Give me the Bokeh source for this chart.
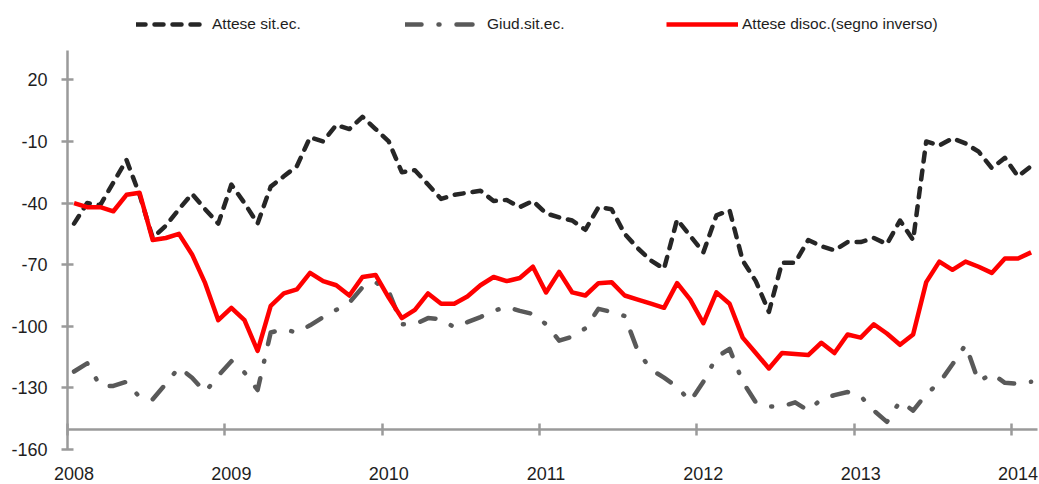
from bokeh.plotting import figure
from bokeh.models import (ColumnDataSource, Legend, LegendItem, FixedTicker,
                          LinearAxis, Range1d)
from bokeh.embed import file_html
from bokeh.resources import INLINE

year_labels = ["2008", "2009", "2010", "2011", "2012", "2013", "2014"]
months = [f"{2008 + i // 12}-{i % 12 + 1:02d}" for i in range(74)]

attese_sit = [-50, -40, -41, -30, -19, -36, -57, -51, -43, -35.5, -43, -50,
              -31, -40, -50, -32, -27, -22, -8, -10, -2, -4, 2, -4,
              -10, -25, -24, -31, -38, -36, -35, -34, -39, -38.5, -42, -39,
              -45, -47, -48.5, -53, -42, -43, -55, -62, -68, -72, -48, -56,
              -64, -46, -43.5, -68, -78, -93, -69, -69, -58, -61, -63, -59,
              -59, -57, -60, -48.5, -58, -10, -12, -8.5, -11, -15, -23, -18,
              -27, -22]

giud_sit = [-122, -118, -129, -129, -127, -134.5, -135.5, -128, -120, -125, -132, -124,
            -117, -122.5, -131, -103, -101.5, -103, -99.5, -95.5, -92, -88.5, -81, -78.5,
            -83, -99, -99, -96, -96.5, -100.5, -98, -95.5, -92.5, -90.5, -92.5, -94,
            -99, -107, -105, -101, -91.5, -93, -95, -112, -121, -125, -129.5, -136.5,
            -127, -115, -111, -127, -137, -139, -139, -137, -141, -135.5, -133.5, -132,
            -134, -141, -146.5, -136.5, -141, -133, -127.5, -118.5, -109, -127, -123, -127.5,
            -128, -127]

attese_disoc = [-40, -42, -42, -44, -36, -35, -58, -57, -55, -65, -79, -97,
                -91, -97, -112, -90, -84, -82, -74, -78, -80, -85, -76, -75,
                -86, -96, -92, -84, -89, -89, -85.5, -80, -76, -78, -76.5, -71,
                -83.5, -73.5, -83.5, -85, -79, -78.5, -85, -87, -89, -91, -79, -87,
                -98.5, -83.5, -89, -105.5, -113, -120.5, -113, -113.5, -114, -108, -113, -104,
                -105.5, -99, -103.5, -109, -104, -78.5, -68.5, -72.5, -68.5, -71, -74, -67,
                -67, -64]

y_ticks = [-160, -130, -100, -70, -40, -10, 20]
y_tick_labels = ["-160", "-130", "-100", "-70", "-40", "-10", "20"]

assert len(attese_sit) == len(giud_sit) == len(attese_disoc) == len(months)

src = ColumnDataSource(dict(
    x=[i + 0.5 for i in range(len(months))],
    month=months,
    a=attese_sit, g=giud_sit, d=attese_disoc,
))

FONT = "Liberation Sans"
TICK_FS = "18px"
LEG_FS = "15.5px"
TXT = "#1e1e1e"
AX = "#9a9a9a"

p = figure(width=1039, height=484, x_range=Range1d(-5.11, 74.14), y_range=Range1d(-177.0, 58.6),
           output_backend="svg", toolbar_location=None,
           x_axis_location=None, y_axis_location=None, min_border=0)
p.outline_line_color = None
p.xgrid.visible = False
p.ygrid.visible = False
p.background_fill_color = "white"

# y axis at x = 0 (start of 2008)
ya = LinearAxis(fixed_location=0, bounds=(-160, 34.4))
ya.ticker = FixedTicker(ticks=y_ticks)
ya.major_label_overrides = dict(zip(y_ticks, y_tick_labels))
ya.axis_line_color = AX
ya.axis_line_width = 2.5
ya.major_tick_line_color = AX
ya.major_tick_line_width = 2.5
ya.major_tick_in = 6
ya.major_tick_out = 6
ya.minor_tick_line_color = None
ya.major_label_standoff = 14
ya.major_label_text_font = FONT
ya.major_label_text_font_size = TICK_FS
ya.major_label_text_color = TXT
p.add_layout(ya, "left")

# x axis line + ticks crossing at -150
xa = LinearAxis(fixed_location=-150, bounds=(0, 74))
xa.ticker = FixedTicker(ticks=[12 * i for i in range(len(year_labels))])
xa.major_label_text_font_size = "0px"
xa.major_label_text_alpha = 0
xa.axis_line_color = AX
xa.axis_line_width = 2.5
xa.major_tick_line_color = AX
xa.major_tick_line_width = 2.5
xa.major_tick_in = 6
xa.major_tick_out = 6
xa.minor_tick_line_color = None
p.add_layout(xa, "below")

# year labels (centred in January, as in the reference)
xl = LinearAxis(fixed_location=-150)
label_pos = [12 * i + 0.5 for i in range(len(year_labels))]
xl.ticker = FixedTicker(ticks=label_pos)
xl.major_label_overrides = dict(zip(label_pos, year_labels))
xl.axis_line_color = None
xl.major_tick_line_color = None
xl.major_tick_in = 0
xl.major_tick_out = 0
xl.minor_tick_line_color = None
xl.major_label_standoff = 38
xl.major_label_text_font = FONT
xl.major_label_text_font_size = TICK_FS
xl.major_label_text_color = TXT
p.add_layout(xl, "below")

r_g = p.line("x", "g", source=src, line_color="#595959", line_width=4.5,
             line_dash="16 17 1 17", line_cap="round", line_join="round")
r_a = p.line("x", "a", source=src, line_color="#262626", line_width=4.5,
             line_dash="9 9", line_cap="round", line_join="round")
r_d = p.line("x", "d", source=src, line_color="#ff0000", line_width=4.5,
             line_join="round")

def add_legend(label, rend, xpos, gw):
    lg = Legend(items=[LegendItem(label=label, renderers=[rend])],
                location=(xpos, 450), orientation="horizontal",
                padding=0, margin=0, border_line_color=None,
                background_fill_alpha=0, glyph_width=gw, glyph_height=20,
                label_standoff=4, label_text_font=FONT,
                label_text_font_size=LEG_FS, label_text_color=TXT)
    p.add_layout(lg, "center")

add_legend("Attese sit.ec.", r_a, 136, 72)
add_legend("Giud.sit.ec.", r_g, 405, 78)
add_legend("Attese disoc.(segno inverso)", r_d, 666, 72)

open("out.html", "w").write(file_html(p, INLINE))
